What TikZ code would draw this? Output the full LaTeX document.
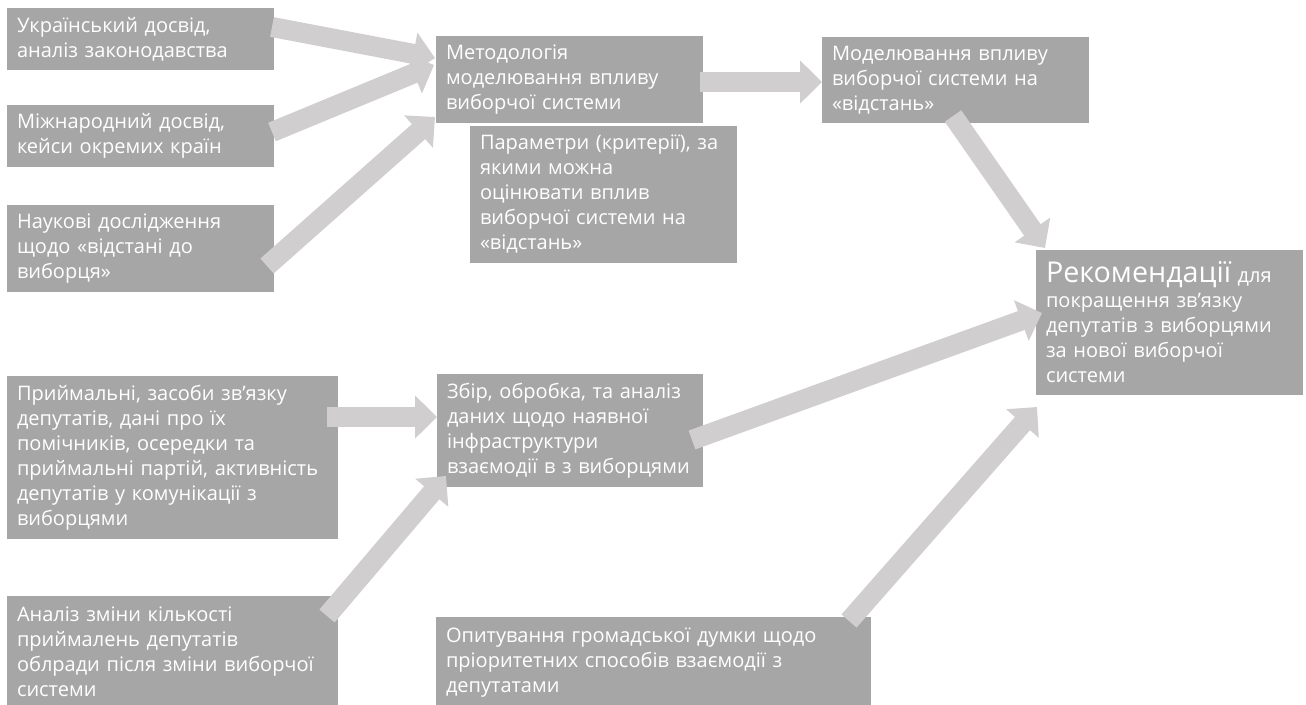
\documentclass[tikz,border=0pt]{standalone}
\usepackage{fontspec}
\setmainfont{Open Sans}
\usetikzlibrary{positioning}
\usetikzlibrary{arrows.meta}
\definecolor{boxgray}{HTML}{A6A6A6}
\definecolor{flowgray}{HTML}{D0CECE}
\tikzset{
	every node/.style={align=left,outer sep=0pt},
	box/.style={fill=boxgray, text=white, inner xsep=7.5pt, inner ysep=0pt, anchor=north west, font=\fontsize{15}{18.75}\selectfont},
	flow/.style={draw=flowgray, line width=15pt, -{Triangle[width=31.5pt,length=16.5pt]}}
}

\begin{document}
\begin{tikzpicture}[x=0.75pt, y=-0.75pt]

					\useasboundingbox (0,0) rectangle (1306,704);

					\node (ua) [box, text width=185.25pt, minimum height=46.5pt] at (7,8) {Український досвід,\\аналіз законодавства};
					\node (mizh) [box, text width=185.25pt, minimum height=46.5pt, below=26.25pt of ua] {Міжнародний досвід,\\кейси окремих країн};
					\node (nauk) [box, text width=185.25pt, minimum height=65.25pt, below=28.5pt of mizh] {Наукові дослідження\\щодо «відстані до\\виборця»};
					\node (met) [box, text width=185.25pt, minimum height=65.25pt] at (436,36) {Методологія\\моделювання впливу\\виборчої системи};
					\node (par) [box, text width=185.25pt, minimum height=102.75pt] at (470,126) {Параметри (критерії), за\\якими можна\\оцінювати вплив\\виборчої системи на\\«відстань»};
					\node (modl) [box, text width=185.25pt, minimum height=64.5pt] at (822,37) {Моделювання впливу\\виборчої системи на\\«відстань»};
					\node (rek) [box, text width=185.25pt, minimum height=108.75pt] at (1036,250) {{\fontsize{21.5}{24}\selectfont Рекомендації} для\\покращення зв’язку\\депутатів з виборцями\\за нової виборчої\\системи};
					\node (pryi) [box, text width=233.25pt, minimum height=122.25pt] at (7,376) {Приймальні, засоби зв’язку\\депутатів, дані про їх\\помічників, осередки та\\приймальні партій, активність\\депутатів у комунікації з\\виборцями};
					\node (zbir) [box, text width=184.5pt, minimum height=84.75pt] at (437,374) {Збір, обробка, та аналіз\\даних щодо наявної\\інфраструктури\\взаємодії в з виборцями};
					\node (anal) [box, text width=233.25pt, minimum height=84pt] at (7,596) {Аналіз зміни кількості\\приймалень депутатів\\облради після зміни виборчої\\системи};
					\node (opyt) [box, text width=311.25pt, minimum height=68.25pt] at (436,617) {Опитування громадської думки щодо\\пріоритетних способів взаємодії з\\депутатами};

					\draw[flow] ([shift={(-2,-12)}]ua.east) -- ([shift={(-1,-21.5)}]met.west);
					\draw[flow] ([shift={(-2,-4)}]mizh.east) -- ([shift={(-2,-14.5)}]met.west);
					\draw[flow] ([shift={(-7,17.5)}]nauk.east) -- ([shift={(-1,-6)}]met.south west);
					\draw[flow] ([shift={(-3,2.5)}]met.east) -- ([shift={(0,2)}]modl.west);
					\draw[flow] ([shift={(-2.5,-7)}]modl.south) -- ([shift={(9,-2)}]rek.north west);
					\draw[flow] ([shift={(-11,9.5)}]zbir.east) -- ([shift={(6,-9.5)}]rek.west);
					\draw[flow] ([shift={(-22,4)}]opyt.north east) -- ([shift={(1,12)}]rek.south west);
					\draw[flow] ([shift={(-11,41)}]pryi.north east) -- ([shift={(0,-13.5)}]zbir.west);
					\draw[flow] ([shift={(-11,20)}]anal.north east) -- ([shift={(9,-11)}]zbir.south west);
				\end{tikzpicture}
\end{document}
